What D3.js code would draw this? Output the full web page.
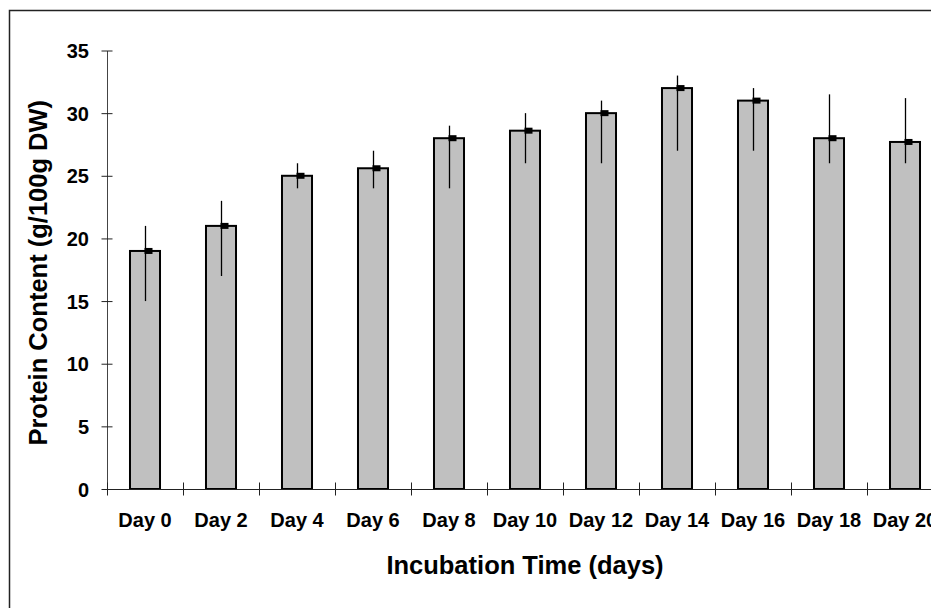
<!DOCTYPE html>
<html>
<head>
<meta charset="utf-8">
<script src="https://cdn.jsdelivr.net/npm/d3@7"></script>
<style>
  body { margin: 0; background: #fff; }
  svg text { font-family: "Liberation Sans", Arial, sans-serif; font-weight: bold; fill: #000; }
</style>
</head>
<body>
<div id="chart"></div>
<script>

// chart data
var days = ["Day 0", "Day 2", "Day 4", "Day 6", "Day 8", "Day 10", "Day 12", "Day 14", "Day 16", "Day 18", "Day 20"];
var protein = [19.0, 21.0, 25.0, 25.6, 28.0, 28.6, 30.0, 32.0, 31.0, 28.0, 27.7];
var errLow = [15.0, 17.0, 24.0, 24.0, 24.0, 26.0, 26.0, 27.0, 27.0, 26.0, 26.0];
var errHigh = [21.0, 23.0, 26.0, 27.0, 29.0, 30.0, 31.0, 33.0, 32.0, 31.5, 31.2];
var yTicks = [0, 5, 10, 15, 20, 25, 30, 35];

function drawChart() {

	var width = 931;
	var height = 608;
	var left = 107, right = 943, top = 50.5, bottom = 489;

	var svg = d3.select("div#chart")
		.append("svg")
		.attr("width", width)
		.attr("height", height);

	// outer frame (runs past the window on right and bottom)
	svg.append("rect")
		.attr("x", 9.5)
		.attr("y", 10.5)
		.attr("width", 1000)
		.attr("height", 700)
		.attr("fill", "none")
		.attr("stroke", "#222")
		.attr("stroke-width", 1.5);

	var x = d3.scaleBand()
		.domain(days)
		.range([left, right])
		.paddingInner(0.605)
		.paddingOuter(0.3025);

	// category boundaries for the x ticks
	var xEdge = d3.scaleLinear()
		.domain([0, days.length])
		.range([left, right]);

	var y = d3.scaleLinear()
		.domain([0, 35])
		.range([bottom, top]);

	// y axis
	var yAxis = svg.append("g")
		.attr("transform", "translate(" + left + ",0)")
		.call(d3.axisLeft(y).tickValues(yTicks).tickSize(6).tickSizeOuter(0).tickPadding(12));

	yAxis.select(".domain").attr("stroke", "#444").attr("stroke-width", 1);
	yAxis.selectAll(".tick line").attr("x1", -5.5).attr("x2", 5.5).attr("stroke", "#222");
	yAxis.selectAll(".tick text")
		.attr("x", -18)
		.style("font-size", "20px")
		.attr("dy", "0.35em");

	// bars
	svg.selectAll("rect.bar")
		.data(days)
		.enter()
		.append("rect")
		.attr("class", "bar")
		.attr("x", function(d) { return x(d); })
		.attr("y", function(d, i) { return y(protein[i]); })
		.attr("width", x.bandwidth())
		.attr("height", function(d, i) { return y(0) - y(protein[i]); })
		.attr("fill", "#c0c0c0")
		.attr("stroke", "#000")
		.attr("stroke-width", 2);

	// x axis (boundary ticks crossing the line)
	var xAxis = svg.append("g")
		.attr("transform", "translate(0," + bottom + ")")
		.call(d3.axisBottom(xEdge).tickValues(d3.range(days.length + 1)).tickFormat("").tickSize(6).tickSizeOuter(0));

	xAxis.select(".domain").attr("stroke", "#222").attr("stroke-width", 1.2);
	xAxis.selectAll(".tick line").attr("y1", -6.5).attr("y2", 6.5).attr("stroke", "#222");

	// category labels
	svg.selectAll("text.xlab")
		.data(days)
		.enter()
		.append("text")
		.attr("class", "xlab")
		.attr("x", function(d) { return x(d) + x.bandwidth() / 2; })
		.attr("y", 527)
		.attr("text-anchor", "middle")
		.style("font-size", "20px")
		.text(function(d) { return d; });

	// error bars
	svg.selectAll("line.err")
		.data(days)
		.enter()
		.append("line")
		.attr("class", "err")
		.attr("x1", function(d) { return x(d) + x.bandwidth() / 2 + 0.5; })
		.attr("x2", function(d) { return x(d) + x.bandwidth() / 2 + 0.5; })
		.attr("y1", function(d, i) { return y(errLow[i]); })
		.attr("y2", function(d, i) { return y(errHigh[i]); })
		.attr("stroke", "#000")
		.attr("stroke-width", 1.3);

	// mean markers
	svg.selectAll("rect.mark")
		.data(days)
		.enter()
		.append("rect")
		.attr("class", "mark")
		.attr("x", function(d) { return x(d) + x.bandwidth() / 2 - 0.5; })
		.attr("y", function(d, i) { return y(protein[i]) - 3; })
		.attr("width", 8)
		.attr("height", 6)
		.attr("fill", "#000");

	// axis titles
	svg.append("text")
		.attr("x", (left + right) / 2)
		.attr("y", 574)
		.attr("text-anchor", "middle")
		.style("font-size", "25.5px")
		.text("Incubation Time (days)");

	svg.append("text")
		.attr("transform", "translate(47," + ((top + bottom) / 2 + 3) + ") rotate(-90)")
		.attr("text-anchor", "middle")
		.style("font-size", "25.5px")
		.text("Protein Content (g/100g DW)");
}

drawChart();
</script>
</body>
</html>
